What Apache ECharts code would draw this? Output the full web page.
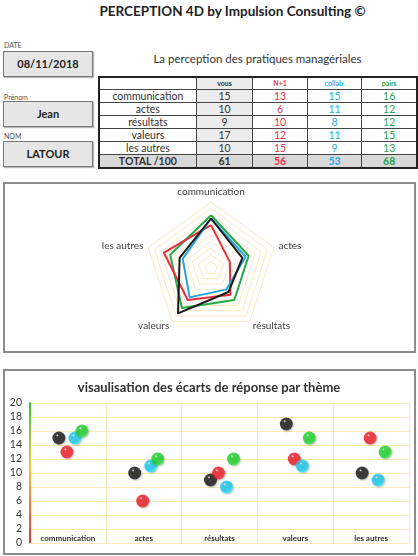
<!DOCTYPE html>
<html>
<head>
<meta charset="utf-8">
<script src="https://cdn.jsdelivr.net/npm/echarts@6/dist/echarts.min.js"></script>
<style>
  body { margin: 0; width: 418px; height: 556px; position: relative; background: #fff; font-family: Lato, "Liberation Sans", sans-serif; color: #222; overflow: hidden; }
  .abs { position: absolute; }
  #title { left: 60px; width: 345px; top: 3px; text-align: center; font-weight: bold; font-size: 13.5px; }
  .lbl { left: 4px; font-size: 7px; color: #555; }
  .field { left: 3px; width: 88px; height: 24px; background: #e6e6e6; border: 1px solid #777; box-shadow: 1px 1px 1px #bbb; text-align: center; line-height: 24px; font-weight: bold; font-size: 11px; }
  #subtitle { left: 98px; width: 319px; top: 52px; text-align: center; font-size: 11.5px; color: #333; }
  table { position: absolute; left: 98px; top: 76px; border-collapse: collapse; border: 2px solid #222; font-size: 10.5px; }
  td { border: 1px solid #444; padding: 0; text-align: center; line-height: 11px; height: 12px; color: #333; }
  tr.head td { font-size: 7px; font-weight: bold; height: 10px; }
  td.v { background: #ececec; }
  tr.tot td { background: #d9d9d9; font-weight: bold; font-size: 10.5px; }
  .box { border: 2px solid #8c8c8c; }
  #chart { left: 0; top: 0; width: 418px; height: 556px; }
</style>
</head>
<body>
<div id="title" class="abs">PERCEPTION 4D by Impulsion Consulting ©</div>
<div class="abs lbl" style="top:41px">DATE</div>
<div class="abs field" style="top:51px">08/11/2018</div>
<div class="abs lbl" style="top:93px">Prénom</div>
<div class="abs field" style="top:101px">Jean</div>
<div class="abs lbl" style="top:132px">NOM</div>
<div class="abs field" style="top:141px">LATOUR</div>
<div id="subtitle" class="abs">La perception des pratiques managériales</div>
<table id="tbl"></table>
<div class="abs box" style="left:3px;top:182px;width:409px;height:167px"></div>
<div class="abs box" style="left:3px;top:369px;width:409px;height:182px"></div>
<div id="chart" class="abs"></div>
<script>
const themes = ['communication', 'actes', 'résultats', 'valeurs', 'les autres']
const vous = [15, 10, 9, 17, 10]
const nPlus1 = [13, 6, 10, 12, 15]
const collab = [15, 11, 8, 11, 9]
const pairs = [16, 12, 12, 15, 13]
const totals = [61, 56, 53, 68]
const yTicks = [0, 2, 4, 6, 8, 10, 12, 14, 16, 18, 20]

const colors = { vous: '#1a1a1a', n1: '#e4303f', collab: '#23a6de', pairs: '#27a84a' }
const textColors = { vous: '#333', n1: '#e8334a', collab: '#2aaee6', pairs: '#2ea24e' }
const ballColors = { vous: '#161616', n1: '#f01c28', collab: '#1ec8f0', pairs: '#1ed42a' }

// tableau
const tbl = document.getElementById('tbl')
const widths = [96, 56, 54, 54, 54]
let html = '<tr class="head">'
const heads = [['', '#333'], ['vous', '#333'], ['N+1', textColors.n1], ['collab.', textColors.collab], ['pairs', textColors.pairs]]
heads.forEach((h, i) => {
  html += `<td style="width:${widths[i]}px;color:${h[1]}"${i === 1 ? ' class="v"' : ''}>${h[0]}</td>`
})
html += '</tr>'
themes.forEach((t, i) => {
  html += `<tr><td>${t}</td><td class="v">${vous[i]}</td>` +
    `<td style="color:${textColors.n1}">${nPlus1[i]}</td>` +
    `<td style="color:${textColors.collab}">${collab[i]}</td>` +
    `<td style="color:${textColors.pairs}">${pairs[i]}</td></tr>`
})
html += `<tr class="tot"><td>TOTAL /100</td><td>${totals[0]}</td>` +
  `<td style="color:${textColors.n1}">${totals[1]}</td>` +
  `<td style="color:${textColors.collab}">${totals[2]}</td>` +
  `<td style="color:${textColors.pairs}">${totals[3]}</td></tr>`
tbl.innerHTML = html

// radar : ECharts tourne dans le sens anti-horaire, on inverse l'ordre après le premier axe
const order = [0, 4, 3, 2, 1]
const pick = arr => order.map(i => arr[i])

const sphere = c => new echarts.graphic.RadialGradient(0.38, 0.3, 0.75, [
  { offset: 0, color: 'rgba(255,255,255,0.6)' },
  { offset: 0.14, color: c },
  { offset: 0.7, color: c },
  { offset: 1, color: echarts.color.lift(c, -0.5) }
])

const chart = echarts.init(document.getElementById('chart'))

const scatterSeries = [
  ['vous', vous, ballColors.vous, -9],
  ['N+1', nPlus1, ballColors.n1, -1],
  ['collab.', collab, ballColors.collab, 7],
  ['pairs', pairs, ballColors.pairs, 14]
].map(([name, data, c, dx]) => ({
  name,
  type: 'scatter',
  data,
  symbolSize: 13,
  symbolOffset: [dx, 0],
  itemStyle: {
    color: sphere(c),
    shadowBlur: 2,
    shadowColor: 'rgba(0,0,0,0.3)',
    shadowOffsetX: 1,
    shadowOffsetY: 1
  },
  z: 3
}))

const radarLine = (name, data, c) => ({
  value: pick(data),
  name,
  symbol: 'none',
  lineStyle: { color: c, width: 2 }
})

chart.setOption({
  animation: false,
  textStyle: { fontFamily: 'Lato, "Liberation Sans", sans-serif' },
  title: {
    text: 'visaulisation des écarts de réponse par thème',
    left: 'center',
    top: 376,
    textStyle: { fontSize: 13, fontWeight: 'bold', color: '#333' }
  },
  radar: {
    center: [211, 268],
    radius: 66,
    startAngle: 90,
    shape: 'polygon',
    splitNumber: 10,
    indicator: pick(themes).map(t => ({ name: t, max: 20, min: 0 })),
    axisName: { color: '#404040', fontSize: 10 },
    nameGap: 5,
    axisLine: { show: false },
    axisTick: { show: false },
    axisLabel: { show: false },
    splitArea: { show: false },
    splitLine: { lineStyle: { color: '#fbe8c0', width: 1 } }
  },
  grid: { left: 30, right: 9, top: 403, bottom: 13 },
  xAxis: {
    type: 'category',
    data: themes,
    axisLine: { show: true, lineStyle: { color: '#f8eab8' } },
    axisTick: { show: false },
    axisLabel: { inside: true, margin: 1, fontSize: 8, fontWeight: 'bold', color: '#333' },
    splitLine: { show: true, lineStyle: { color: '#f8eab8' } }
  },
  yAxis: {
    type: 'value',
    min: yTicks[0],
    max: yTicks[yTicks.length - 1],
    interval: 2,
    axisLine: {
      show: true,
      lineStyle: {
        width: 2,
        color: new echarts.graphic.LinearGradient(0, 0, 0, 1, [
          { offset: 0, color: '#2fbf3a' },
          { offset: 0.45, color: '#f4c542' },
          { offset: 1, color: '#e4303f' }
        ])
      }
    },
    axisTick: { show: false },
    axisLabel: { fontSize: 10.5, color: '#333', margin: 8 },
    splitLine: { lineStyle: { color: '#f8eab8' } }
  },
  series: [
    {
      type: 'radar',
      z: 2,
      data: [
        radarLine('pairs', pairs, colors.pairs),
        radarLine('N+1', nPlus1, colors.n1),
        radarLine('collab.', collab, colors.collab),
        radarLine('vous', vous, colors.vous)
      ]
    },
    ...scatterSeries
  ]
})
</script>
</body>
</html>
